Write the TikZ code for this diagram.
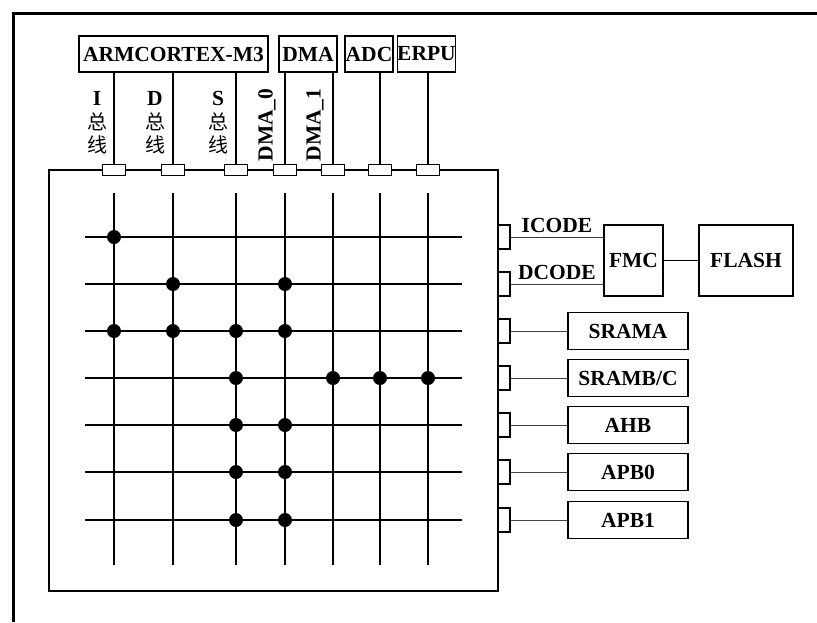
\documentclass[tikz,border=0pt]{standalone}
\usepackage{fontspec}
\setmainfont{Liberation Serif}
\newfontfamily\cjk{Noto Sans CJK SC}
\begin{document}
\begin{tikzpicture}[x=1pt,y=-1pt,
  lbl/.style={font=\fontsize{21.5}{24}\selectfont\bfseries},
  cjklbl/.style={font=\cjk\fontsize{20}{22}\selectfont},
  box/.style={draw,line width=1.4pt,inner sep=0pt,lbl},
  topport/.style={draw,fill=white,line width=1.3pt,minimum width=23pt,minimum height=11pt,inner sep=0pt},
  sideport/.style={draw,fill=white,line width=1.3pt,minimum width=12pt,minimum height=24pt,inner sep=0pt},
  bus/.style={line width=1.6pt},
  link/.style={line width=1.3pt},
  thin/.style={line width=0.9pt,black!75},
  hit/.style={circle,fill=black,minimum size=14pt,inner sep=0pt}]
\useasboundingbox (0,0) rectangle (817,622);

% outer frame (left and top edges only)
\draw[line width=3pt] (13,622) -- (13,13) -- (817,13);

% masters
\node[box,minimum width=189pt,minimum height=36pt] (arm)  at (173.5,54) {ARMCORTEX-M3};
\node[box,minimum width=58pt,minimum height=36pt]  (dma)  at (308,54)   {DMA};
\node[box,minimum width=48pt,minimum height=36pt]  (adc)  at (369,54)   {ADC};
\node[box,minimum width=57pt,minimum height=36pt]  (erpu) at (426.5,54) {ERPU};

% bus matrix frame
\draw[bus] (49,170) rectangle (498,591);

% master ports on top edge
\foreach \n/\x in {p1/114,p2/173,p3/236,p4/285,p5/333,p6/380,p7/428}
  \node[topport] (\n) at (\x,170) {};

\foreach \m/\p in {arm/p1,arm/p2,arm/p3,dma/p4,dma/p5,adc/p6,erpu/p7}
  \draw[link] (\m.south -| \p) -- (\p.north);

% bus labels
\node[lbl] at (97,98) {I};
\node[lbl] at (155,98) {D};
\node[lbl] at (218,98) {S};
\foreach \x in {97,155,218}{
  \node[cjklbl] at (\x,122) {总};
  \node[cjklbl] at (\x,145) {线};
}
\node[lbl,rotate=90] at (267,125) {DMA\_0};
\node[lbl,rotate=90] at (315,125) {DMA\_1};

% crossbar grid
\foreach \x in {114,173,236,285,333,380,428}
  \draw[bus] (\x,193) -- (\x,565);
\foreach \y in {237,284,331,378,425,472,520}
  \draw[bus] (85,\y) -- (462,\y);

% connection points
\foreach \x/\y in {114/237,
                   173/284,285/284,
                   114/331,173/331,236/331,285/331,
                   236/378,333/378,380/378,428/378,
                   236/425,285/425,
                   236/472,285/472,
                   236/520,285/520}
  \node[hit] at (\x,\y) {};

% slave ports on right edge
\foreach \n/\y in {r1/237,r2/284,r3/331,r4/378,r5/425,r6/472,r7/520}
  \node[sideport] (\n) at (504,\y) {};

% flash path
\node[box,minimum width=59pt,minimum height=71pt] (fmc)   at (633.5,260.5) {FMC};
\node[box,minimum width=94pt,minimum height=71pt] (flash) at (746,260.5)   {FLASH};
\draw[thin] (r1.east) -- (fmc.west |- r1) node[midway,above=1pt,lbl,black] {ICODE};
\draw[thin] (r2.east) -- (fmc.west |- r2) node[midway,above=1pt,lbl,black] {DCODE};
\draw[link] (fmc.east) -- (flash.west);

% other slaves
\foreach \n/\y/\t in {sa/331/{SRAMA},sb/378/{SRAMB/C},ahb/425/{AHB},apa/472/{APB0},apb/520/{APB1}}
  \node[box,minimum width=120pt,minimum height=37pt] (\n) at (628,\y) {\t};
\foreach \r/\n in {r3/sa,r4/sb,r5/ahb,r6/apa,r7/apb}
  \draw[thin] (\r.east) -- (\n.west);
\end{tikzpicture}
\end{document}
